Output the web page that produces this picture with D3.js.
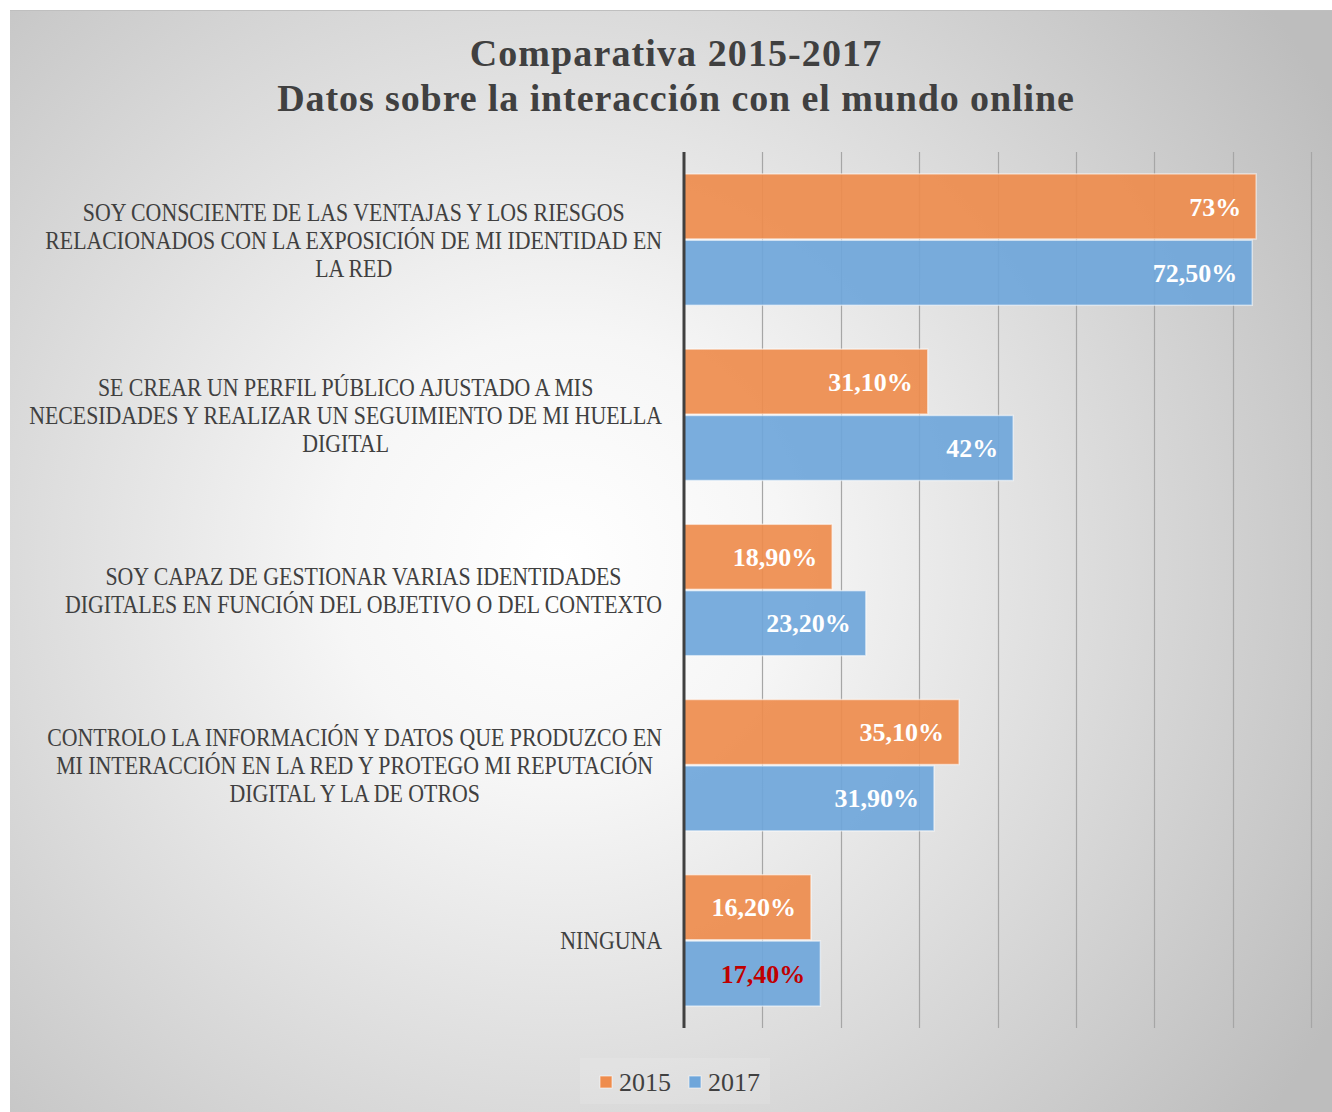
<!DOCTYPE html>
<html>
<head>
<meta charset="utf-8">
<script src="https://cdn.jsdelivr.net/npm/d3@7"></script>
<style>
  body { margin: 0; background: #fff; }
  svg { display: block; }
</style>
</head>
<body>
<div id="chart"></div>
<script>
// data
var categories = [
  ["SOY CONSCIENTE DE LAS VENTAJAS Y LOS RIESGOS", "RELACIONADOS CON LA EXPOSICIÓN DE MI IDENTIDAD EN", "LA RED"],
  ["SE CREAR UN PERFIL PÚBLICO AJUSTADO A MIS", "NECESIDADES Y REALIZAR UN SEGUIMIENTO DE MI HUELLA", "DIGITAL"],
  ["SOY CAPAZ DE GESTIONAR VARIAS IDENTIDADES", "DIGITALES EN FUNCIÓN DEL OBJETIVO O DEL CONTEXTO"],
  ["CONTROLO LA INFORMACIÓN Y DATOS QUE PRODUZCO EN", "MI INTERACCIÓN EN LA RED Y PROTEGO MI REPUTACIÓN", "DIGITAL Y LA DE OTROS"],
  ["NINGUNA"]
];
var seriesNames = ["2015", "2017"];
var values2015 = [73, 31.1, 18.9, 35.1, 16.2];
var values2017 = [72.5, 42, 23.2, 31.9, 17.4];
var labels2015 = ["73%", "31,10%", "18,90%", "35,10%", "16,20%"];
var labels2017 = ["72,50%", "42%", "23,20%", "31,90%", "17,40%"];
var xTicks = [0, 10, 20, 30, 40, 50, 60, 70, 80];

var width = 1332, height = 1112;
var plotLeft = 684, plotRight = 1311, plotTop = 152, plotBottom = 1028;
var colors = { "2015": "#ee8c4d", "2017": "#6fa6da" };
var serif = "'Liberation Serif', 'DejaVu Serif', serif";
var labelScaleX = 0.84;

var svg = d3.select("#chart").append("svg")
  .attr("width", width)
  .attr("height", height);

/* background */
var defs = svg.append("defs");
var grad = defs.append("radialGradient")
  .attr("id", "bg")
  .attr("gradientUnits", "userSpaceOnUse")
  .attr("cx", 560).attr("cy", 560).attr("r", 900);
grad.append("stop").attr("offset", "0").attr("stop-color", "#ffffff");
grad.append("stop").attr("offset", "0.25").attr("stop-color", "#f6f6f6");
grad.append("stop").attr("offset", "1").attr("stop-color", "#bdbdbd");

svg.append("rect")
  .attr("x", 10).attr("y", 10)
  .attr("width", width - 10).attr("height", height - 10)
  .attr("fill", "url(#bg)");
svg.append("line")
  .attr("x1", 10).attr("x2", width).attr("y1", 10.5).attr("y2", 10.5)
  .attr("stroke", "#bfbfbf").attr("stroke-width", 1);

/* title */
svg.append("text")
  .attr("x", 676).attr("y", 66)
  .attr("text-anchor", "middle")
  .attr("font-family", serif).attr("font-weight", "bold")
  .attr("font-size", 38).attr("letter-spacing", 1.1)
  .attr("fill", "#404040")
  .text("Comparativa 2015-2017");
svg.append("text")
  .attr("x", 676).attr("y", 111)
  .attr("text-anchor", "middle")
  .attr("font-family", serif).attr("font-weight", "bold")
  .attr("font-size", 38).attr("letter-spacing", 0.9)
  .attr("fill", "#404040")
  .text("Datos sobre la interacción con el mundo online");

/* scales */
var xScale = d3.scaleLinear()
  .domain([0, 80])
  .range([plotLeft, plotRight]);

var yScale = d3.scaleBand()
  .domain(d3.range(categories.length))
  .range([plotTop, plotBottom])
  .paddingInner(0.25)
  .paddingOuter(0.125);

var ySub = d3.scaleBand()
  .domain(seriesNames)
  .range([0, yScale.bandwidth()])
  .paddingInner(0.02);

/* gridlines */
svg.append("g")
  .attr("class", "grid")
  .selectAll("line")
  .data(xTicks.slice(1)).enter()
  .append("line")
  .attr("x1", d => Math.round(xScale(d)) + 0.5)
  .attr("x2", d => Math.round(xScale(d)) + 0.5)
  .attr("y1", plotTop).attr("y2", plotBottom)
  .attr("stroke", "#a6a6a6").attr("stroke-width", 1.2);

/* bars */
var rows = categories.map(function(c, i) {
  return [
    { cat: i, series: "2015", value: values2015[i], label: labels2015[i] },
    { cat: i, series: "2017", value: values2017[i], label: labels2017[i] }
  ];
});

var groups = svg.append("g").attr("class", "bars")
  .selectAll("g")
  .data(rows).enter()
  .append("g")
  .attr("transform", (d, i) => `translate(0, ${yScale(i)})`);

groups.selectAll("rect")
  .data(d => d).enter()
  .append("rect")
  .attr("x", xScale(0))
  .attr("y", d => ySub(d.series))
  .attr("width", d => xScale(d.value) - xScale(0))
  .attr("height", ySub.bandwidth())
  .attr("fill", d => colors[d.series])
  .attr("fill-opacity", 0.92)
  .attr("stroke", "rgba(255,255,255,0.55)")
  .attr("stroke-width", 1.5);

groups.selectAll("text")
  .data(d => d).enter()
  .append("text")
  .attr("x", d => xScale(d.value) - 15)
  .attr("y", d => ySub(d.series) + ySub.bandwidth() / 2)
  .attr("dy", "0.35em")
  .attr("text-anchor", "end")
  .attr("font-family", serif).attr("font-weight", "bold")
  .attr("font-size", 26)
  .attr("fill", d => (d.cat === 4 && d.series === "2017") ? "#c00000" : "#ffffff")
  .text(d => d.label);

/* axis line */
svg.append("line")
  .attr("x1", plotLeft).attr("x2", plotLeft)
  .attr("y1", plotTop).attr("y2", plotBottom)
  .attr("stroke", "#404040").attr("stroke-width", 3);

/* category labels */
var labelRight = 662;
var lineH = 28;
categories.forEach(function(lines, i) {
  var cy = yScale(i) + yScale.bandwidth() / 2;
  var g = svg.append("g")
    .attr("transform", `translate(${labelRight}, 0) scale(${labelScaleX}, 1)`);
  var texts = g.selectAll("text")
    .data(lines).enter()
    .append("text")
    .attr("font-family", serif)
    .attr("font-size", 26)
    .attr("fill", "#404040")
    .attr("text-anchor", "middle")
    .attr("y", (d, j) => cy + (j - (lines.length - 1) / 2) * lineH)
    .attr("dy", "0.35em")
    .text(d => d);
  var maxW = d3.max(texts.nodes(), n => n.getComputedTextLength());
  texts.attr("x", -maxW / 2);
});

/* legend */
var legend = svg.append("g").attr("class", "legend");
legend.append("rect")
  .attr("x", 580).attr("y", 1058).attr("width", 190).attr("height", 46)
  .attr("fill", "rgba(255,255,255,0.12)");
var legendX = d3.scalePoint().domain(seriesNames).range([600, 689]);
var items = legend.selectAll("g.item")
  .data(seriesNames).enter()
  .append("g").attr("class", "item");
items.append("rect")
  .attr("x", d => legendX(d)).attr("y", 1076)
  .attr("width", 12).attr("height", 12)
  .attr("fill", d => colors[d])
  .attr("stroke", "rgba(255,255,255,0.6)");
items.append("text")
  .attr("x", d => legendX(d) + 19).attr("y", 1082)
  .attr("dy", "0.35em")
  .attr("font-family", serif).attr("font-size", 26)
  .attr("fill", "#404040")
  .text(d => d);
</script>
</body>
</html>
